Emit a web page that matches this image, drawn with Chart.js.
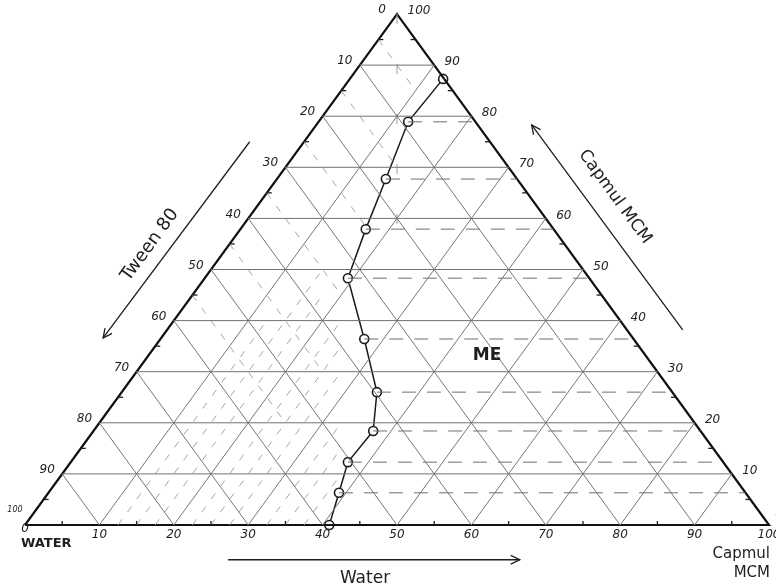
<!DOCTYPE html>
<html>
<head>
<meta charset="utf-8">
<script src="https://cdn.jsdelivr.net/npm/chart.js@4.4.1/dist/chart.umd.min.js"></script>
<style>
  html, body { margin: 0; padding: 0; background: #ffffff; }
  #wrap { width: 776px; height: 588px; position: relative; }
</style>
</head>
<body>
<div id="wrap"><canvas id="c" width="776" height="588"></canvas></div>
<script>
// ---- data ----
const gridLevels = [10, 20, 30, 40, 50, 60, 70, 80, 90];
const bottomTicks = [10, 20, 30, 40, 50, 60, 70, 80, 90];
const bottomLabels = ['0', '10', '20', '30', '40', '50', '60', '70', '80', '90', '100'];
const sideLevels = [100, 90, 80, 70, 60, 50, 40, 30, 20, 10, 0];
const tweenLabels = ['0', '10', '20', '30', '40', '50', '60', '70', '80', '90', '100'];
const capmulLabels = ['100', '90', '80', '70', '60', '50', '40', '30', '20', '10', '0'];

// phase boundary points: position along water axis, Capmul level
const boundaryX = [56.2, 51.5, 48.5, 45.8, 43.4, 45.6, 47.3, 46.8, 43.4, 42.2, 40.9];
const boundaryY = [87.3, 78.9, 67.7, 57.9, 48.3, 36.4, 26.0, 18.4, 12.3, 6.3, 0];

// hand-drawn dashed guide lines
const slashStarts = [12.5, 15, 17.5, 22.5, 25, 27.5, 32.5, 35, 37.5];
const slashEnds = [40, 50, 45, 40, 35, 30, 20, 15, 10];
const backStarts = [95, 85, 75, 65, 55, 45];
const backEnds = [85, 70, 58, 45, 30, 20];

// ---- build datasets ----
const datasets = [];
const seg = (pts, color, width, dash) => datasets.push({
  data: pts, showLine: true, borderColor: color, borderWidth: width,
  borderDash: dash || [], pointRadius: 0, clip: false, tension: 0
});

// solid grid
gridLevels.forEach(L => seg([{x: L / 2, y: L}, {x: 100 - L / 2, y: L}], '#7e6a73', 1));
bottomTicks.forEach(b => {
  seg([{x: b, y: 0}, {x: (100 + b) / 2, y: 100 - b}], '#767676', 1);
  seg([{x: b, y: 0}, {x: b / 2, y: b}], '#767676', 1);
});
// dashed guides
slashStarts.forEach((b, i) => seg([{x: b, y: 0}, {x: b + slashEnds[i] / 2, y: slashEnds[i]}], '#a5a5a5', 1, [7, 9]));
backStarts.forEach((L, i) => seg([{x: L / 2, y: L}, {x: L / 2 + (L - backEnds[i]) / 2, y: backEnds[i]}], '#a5a5a5', 1, [7, 9]));
seg([{x: 50, y: 100}, {x: 50, y: 52}], '#999999', 1, [10, 40]);
boundaryX.forEach((x, i) => {
  const y = boundaryY[i];
  if (y > 0) seg([{x: x, y: y}, {x: 100 - y / 2, y: y}], '#6e6e6e', 1, [14, 11]);
});
// outer triangle
seg([{x: 0, y: 0}, {x: 100, y: 0}, {x: 50, y: 100}, {x: 0, y: 0}], '#111111', 2.2);
// boundary curve
datasets.push({
  data: boundaryX.map((x, i) => ({x: x, y: boundaryY[i]})),
  showLine: true, borderColor: '#1a1a1a', borderWidth: 1.5, clip: false,
  pointRadius: 4.5, pointBackgroundColor: '#ffffff', pointBorderColor: '#1a1a1a',
  pointBorderWidth: 1.6, tension: 0
});
datasets.push({
  data: boundaryX.map((x, i) => ({x: x, y: boundaryY[i]})),
  showLine: false, pointRadius: 1.4, pointBackgroundColor: '#1a1a1a',
  pointBorderWidth: 0, clip: false
});

// ---- text & decorations plugin ----
const deco = {
  id: 'deco',
  afterDatasetsDraw(chart) {
    const ctx = chart.ctx;
    const sx = chart.scales.x, sy = chart.scales.y;
    const P = (x, y) => [sx.getPixelForValue(x), sy.getPixelForValue(y)];
    ctx.save();
    ctx.fillStyle = '#1e1e1e';
    ctx.strokeStyle = '#1e1e1e';
    ctx.textAlign = 'center';
    ctx.textBaseline = 'middle';
    ctx.font = 'italic 12px "DejaVu Sans"';

    // minor ticks
    ctx.lineWidth = 1.3;
    for (let v = 5; v < 100; v += 10) {
      let [a, b] = P(v, 0);
      ctx.beginPath(); ctx.moveTo(a, b); ctx.lineTo(a, b - 4); ctx.stroke();
      [a, b] = P(v / 2, v);
      ctx.beginPath(); ctx.moveTo(a, b); ctx.lineTo(a + 5, b); ctx.stroke();
      [a, b] = P(100 - v / 2, v);
      ctx.beginPath(); ctx.moveTo(a, b); ctx.lineTo(a - 5, b); ctx.stroke();
    }

    // side labels
    sideLevels.forEach((L, i) => {
      let [a, b] = P(L / 2, L);
      ctx.font = (L === 0 ? 'italic 8px' : 'italic 12px') + ' "DejaVu Sans"';
      if (L === 0) ctx.fillText(tweenLabels[i], a - 10, b - 15);
      else ctx.fillText(tweenLabels[i], a - 15, b - 4);
      [a, b] = P(100 - L / 2, L);
      ctx.font = 'italic 12px "DejaVu Sans"';
      if (L === 0) ctx.fillText(capmulLabels[i], a + 10, b - 10);
      else ctx.fillText(capmulLabels[i], a + (L === 100 ? 22 : 18), b - 3);
    });
    // bottom labels
    bottomLabels.forEach((t, i) => {
      const [a, b] = P(i * 10, 0);
      ctx.font = 'italic 12px "DejaVu Sans"';
      ctx.fillText(t, a, b + (i === 0 ? 4 : 10));
    });

    ctx.font = 'bold 13px "DejaVu Sans"';
    let [a, b] = P(0, 0);
    ctx.textAlign = 'left';
    ctx.fillText('WATER', a - 4, b + 19);
    [a, b] = P(100, 0);
    ctx.textAlign = 'right';
    ctx.font = '15px "DejaVu Sans"';
    ctx.fillText('Capmul', a + 1, b + 29);
    ctx.fillText('MCM', a + 1, b + 48);

    // axis arrows
    const arrow = (x1, y1, x2, y2) => {
      const [p1, q1] = P(x1, y1), [p2, q2] = P(x2, y2);
      ctx.lineWidth = 1.3;
      ctx.beginPath(); ctx.moveTo(p1, q1); ctx.lineTo(p2, q2); ctx.stroke();
      const ang = Math.atan2(q2 - q1, p2 - p1);
      ctx.beginPath();
      ctx.moveTo(p2 - 10 * Math.cos(ang - 0.45), q2 - 10 * Math.sin(ang - 0.45));
      ctx.lineTo(p2, q2);
      ctx.lineTo(p2 - 10 * Math.cos(ang + 0.45), q2 - 10 * Math.sin(ang + 0.45));
      ctx.stroke();
    };
    arrow(27.3, -6.8, 66.5, -6.8);
    arrow(30.2, 75, 10.5, 36.6);
    arrow(88.4, 38.2, 68.1, 78.3);

    ctx.textAlign = 'center';
    ctx.font = '17px "DejaVu Sans"';
    [a, b] = P(45.7, -10.4);
    ctx.fillText('Water', a, b);

    const side = Math.atan2(sy.getPixelForValue(100) - sy.getPixelForValue(0),
                            sx.getPixelForValue(50) - sx.getPixelForValue(0));
    [a, b] = P(16.8, 54.8);
    ctx.save(); ctx.translate(a, b); ctx.rotate(side);
    ctx.font = '18px "DejaVu Sans"'; ctx.fillText('Tween 80', 0, 0); ctx.restore();
    [a, b] = P(79.3, 64.2);
    ctx.save(); ctx.translate(a, b); ctx.rotate(-side);
    ctx.font = '17px "DejaVu Sans"'; ctx.fillText('Capmul MCM', 0, 0); ctx.restore();

    [a, b] = P(62.1, 33.2);
    ctx.font = 'bold 17px "DejaVu Sans"';
    ctx.fillText('ME', a, b);
    ctx.restore();
  }
};

new Chart(document.getElementById('c'), {
  type: 'scatter',
  data: { datasets: datasets },
  options: {
    responsive: false,
    animation: false,
    layout: { padding: { left: 25, right: 7, top: 14, bottom: 63 } },
    scales: {
      x: { type: 'linear', min: 0, max: 100, display: false },
      y: { type: 'linear', min: 0, max: 100, display: false }
    },
    plugins: { legend: { display: false }, tooltip: { enabled: false } }
  },
  plugins: [deco]
});
</script>
</body>
</html>
